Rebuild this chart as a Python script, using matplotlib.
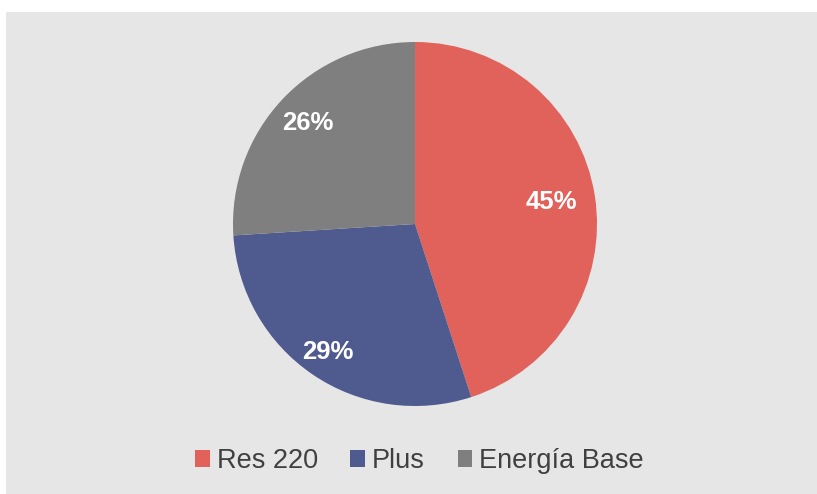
import matplotlib
matplotlib.use('Agg')
import matplotlib.pyplot as plt
from matplotlib.patches import Rectangle, Patch
import numpy as np

plt.rcParams['font.family'] = ['Liberation Sans', 'DejaVu Sans']

# data
categories = ['Res 220', 'Plus', 'Energía Base']
shares = [45, 29, 26]
colors = ['#e0625a', '#4f5b8f', '#7f7f7f']

W, H = 817, 494
fig = plt.figure(figsize=(W / 100, H / 100), dpi=100, facecolor='white')

# grey chart area (white strip at top and left)
fig.patches.append(Rectangle((6 / W, 0), 1 - 6 / W, (H - 12) / H,
                             transform=fig.transFigure, facecolor='#e6e6e6',
                             edgecolor='none', zorder=-5))

cx, cy, r = 415, 224, 182
ax = fig.add_axes([(cx - r) / W, (H - cy - r) / H, 2 * r / W, 2 * r / H])
ax.set_facecolor('none')
ax.set_zorder(2)

wedges, texts, autotexts = ax.pie(shares, colors=colors, startangle=90,
                                  counterclock=False, autopct='%1.0f%%',
                                  pctdistance=0.8,
                                  wedgeprops=dict(linewidth=0),
                                  textprops=dict(color='white', fontsize=18.5,
                                                 fontweight='bold'))
ax.set_xlim(-1, 1)
ax.set_ylim(-1, 1)
ax.set_aspect('equal')
ax.axis('off')

# label distances per slice (Excel best-fit)
label_dist = [0.76, 0.85, 0.81]
for w, t, d in zip(wedges, autotexts, label_dist):
    mid = np.deg2rad((w.theta1 + w.theta2) / 2)
    t.set_position((d * np.cos(mid), d * np.sin(mid)))

handles = [Patch(facecolor=c, edgecolor='none') for c in colors]
leg = fig.legend(handles, categories, loc='center',
                 bbox_to_anchor=(419.5 / W, (H - 461) / H),
                 ncol=3, frameon=False, fontsize=19.5, labelcolor='#404040',
                 handlelength=0.55, handleheight=0.55, handletextpad=0.25,
                 columnspacing=1.2)
leg.set_zorder(3)

fig.savefig('out.png', dpi=100, facecolor='white')
